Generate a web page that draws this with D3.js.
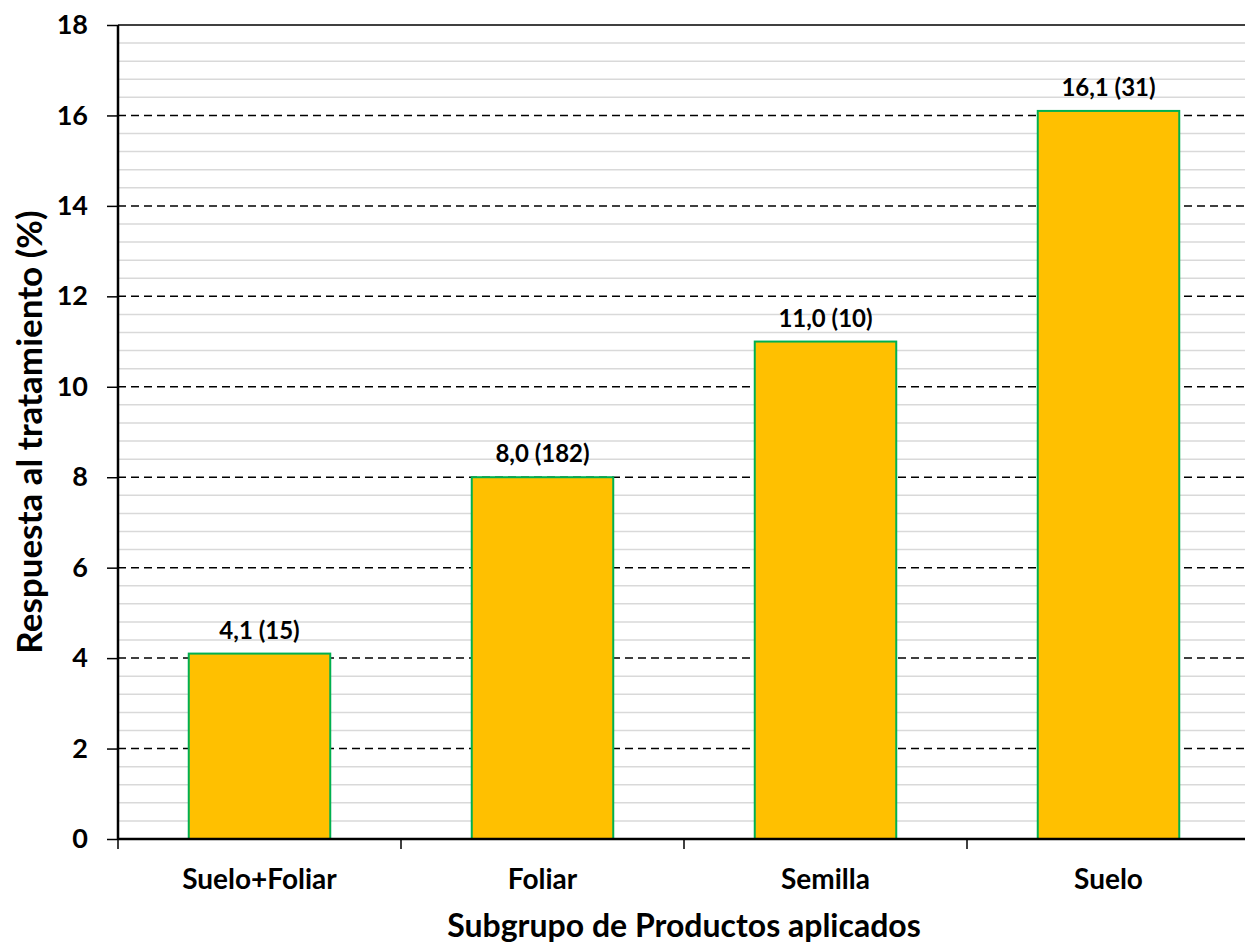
<!DOCTYPE html>
<html>
<head>
<meta charset="utf-8">
<script src="https://cdn.jsdelivr.net/npm/d3@7"></script>
<style>
  html, body { margin: 0; padding: 0; background: #fff; }
  svg { display: block; font-family: Lato, "Open Sans", sans-serif; font-weight: bold; }
</style>
</head>
<body>
<svg id="chart" width="1245" height="943"></svg>
<script>
// Respuesta media al tratamiento por subgrupo de productos
const categories = ["Suelo+Foliar", "Foliar", "Semilla", "Suelo"];
const values = [4.1, 8.0, 11.0, 16.1];
const counts = [15, 182, 10, 31];
const yTicks = [0, 2, 4, 6, 8, 10, 12, 14, 16, 18];

const svg = d3.select("#chart");
const plotLeft = 118, plotRight = 1250, plotTop = 25, plotBottom = 839;

const x = d3.scaleBand().domain(categories).range([plotLeft, plotRight]).paddingInner(0.5).paddingOuter(0.25);
const y = d3.scaleLinear().domain([0, 18]).range([plotBottom, plotTop]);

// minor grid every 0.4
const minor = d3.range(0, 18.001, 0.4).filter(v => Math.abs(v / 2 - Math.round(v / 2)) > 1e-6);
svg.append("g").selectAll("line").data(minor).join("line")
  .attr("x1", plotLeft).attr("x2", plotRight)
  .attr("y1", d => y(d)).attr("y2", d => y(d))
  .attr("stroke", "#d9d9d9").attr("stroke-width", 1.5);

// major dashed grid
svg.append("g").selectAll("line").data(yTicks.filter(v => v > 0)).join("line")
  .attr("x1", plotLeft).attr("x2", plotRight)
  .attr("y1", d => y(d)).attr("y2", d => y(d))
  .attr("stroke", "#000").attr("stroke-width", 1.5)
  .attr("stroke-dasharray", d => d === 18 ? null : "8,5");

// bars
svg.append("g").selectAll("rect").data(values).join("rect")
  .attr("x", (d, i) => x(categories[i]))
  .attr("width", x.bandwidth())
  .attr("y", d => y(d))
  .attr("height", d => y(0) - y(d))
  .attr("fill", "#FFC000")
  .attr("stroke", "#00B050").attr("stroke-width", 2);

// value labels
svg.append("g").selectAll("text").data(values).join("text")
  .attr("x", (d, i) => x(categories[i]) + x.bandwidth() / 2)
  .attr("y", d => y(d) - 15)
  .attr("text-anchor", "middle")
  .attr("font-size", 24)
  .attr("fill", "#000")
  .text((d, i) => d.toFixed(1).replace(".", ",") + " (" + counts[i] + ")");

// y axis
const yAxis = svg.append("g").attr("transform", `translate(${plotLeft},0)`)
  .call(d3.axisLeft(y).tickValues(yTicks).tickSize(11).tickPadding(19).tickFormat(d3.format("d")));
yAxis.select(".domain").attr("stroke", "#000").attr("stroke-width", 2.5).attr("d", `M0,${plotTop}V${plotBottom}`);
yAxis.selectAll(".tick line").attr("stroke", "#000").attr("stroke-width", 1.5);
yAxis.selectAll(".tick text").attr("font-size", 27).attr("font-family", "Lato, sans-serif").attr("font-weight", "bold").attr("fill", "#000");

// x axis with ticks at category boundaries
const xg = svg.append("g").attr("transform", `translate(0,${plotBottom})`);
xg.append("line").attr("x1", plotLeft).attr("x2", plotRight).attr("stroke", "#000").attr("stroke-width", 2.5);
const bounds = categories.map(c => x(c) - x.bandwidth() * 0.5).concat([plotRight]);
xg.selectAll("line.tk").data(bounds).join("line").attr("class", "tk")
  .attr("x1", d => d).attr("x2", d => d).attr("y1", 0).attr("y2", 10)
  .attr("stroke", "#000").attr("stroke-width", 1.5);
xg.selectAll("text").data(categories).join("text")
  .attr("x", d => x(d) + x.bandwidth() / 2)
  .attr("y", 50)
  .attr("text-anchor", "middle")
  .attr("font-size", 28)
  .attr("fill", "#000")
  .text(d => d);

// axis titles
svg.append("text")
  .attr("x", (plotLeft + plotRight) / 2).attr("y", 937)
  .attr("text-anchor", "middle").attr("font-size", 32).attr("fill", "#000")
  .text("Subgrupo de Productos aplicados");
svg.append("text")
  .attr("transform", "translate(42,432) rotate(-90)")
  .attr("text-anchor", "middle").attr("font-size", 35).attr("fill", "#000")
  .text("Respuesta al tratamiento (%)");
</script>
</body>
</html>
